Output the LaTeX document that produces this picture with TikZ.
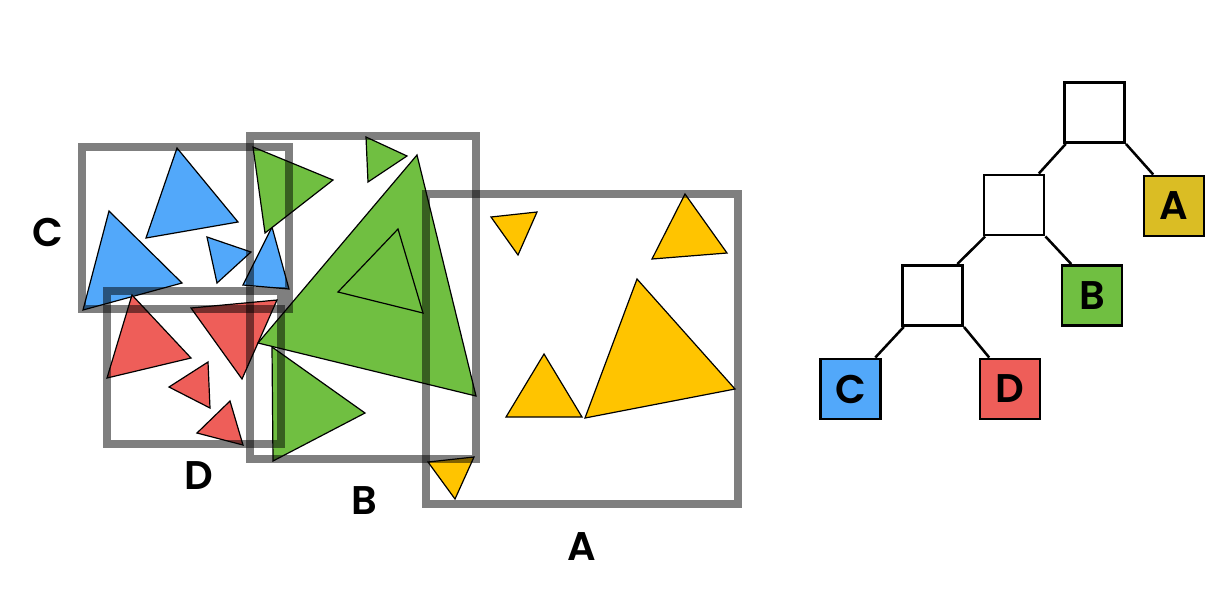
\documentclass[tikz,border=0pt]{standalone}
\usepackage{fontspec}
\setmainfont{Poppins}[BoldFont={Poppins SemiBold}]
\usetikzlibrary{positioning,calc}
\definecolor{triblue}{HTML}{52A8FA}
\definecolor{trired}{HTML}{EE5E59}
\definecolor{trigreen}{HTML}{70BF41}
\definecolor{triyellow}{HTML}{FFC400}
\definecolor{leafyellow}{HTML}{DABD24}
\begin{document}
\begin{tikzpicture}[x=0.75pt, y=-0.75pt,
  tri/.style={draw=black, line width=0.9pt, line join=miter},
  bbox/.style={draw=black, draw opacity=0.5, line width=6pt},
  lbl/.style={font=\fontsize{30}{30}\selectfont\bfseries, inner sep=0pt},
  tnode/.style={draw=black, line width=2.2pt, minimum size=45pt, inner sep=0pt,
    font=\fontsize{30}{30}\selectfont\bfseries},
  edge/.style={line width=1.9pt}]
\useasboundingbox (0,0) rectangle (1219,601);
% C: blue triangles
\filldraw[tri, fill=triblue] (177,148) -- (238,222) -- (146,238) -- cycle;
\filldraw[tri, fill=triblue] (109,211) -- (182,283) -- (83,310) -- cycle;
\filldraw[tri, fill=triblue] (207,237) -- (251,252) -- (217,283) -- cycle;
\filldraw[tri, fill=triblue] (272,227) -- (289,289) -- (243,285) -- cycle;
% D: red triangles
\filldraw[tri, fill=trired] (132,295) -- (191,358) -- (107,378) -- cycle;
\filldraw[tri, fill=trired] (191,308) -- (277,300) -- (242,379) -- cycle;
\filldraw[tri, fill=trired] (208,362) -- (210,408) -- (169,387) -- cycle;
\filldraw[tri, fill=trired] (230,401) -- (243,445) -- (197,433) -- cycle;
% B: green triangles
\filldraw[tri, fill=trigreen] (253,147) -- (333,180) -- (265,233) -- cycle;
\filldraw[tri, fill=trigreen] (366,137) -- (407,156) -- (368,182) -- cycle;
\filldraw[tri, fill=trigreen] (417,155) -- (476,396) -- (258,343) -- cycle;
\filldraw[tri, fill=trigreen] (398,229) -- (423,313) -- (338,292) -- cycle;
\filldraw[tri, fill=trigreen] (272,347) -- (365,413) -- (273,461) -- cycle;
% A: yellow triangles
\filldraw[tri, fill=triyellow] (491,217) -- (537,212) -- (518,255) -- cycle;
\filldraw[tri, fill=triyellow] (685,194) -- (727,253) -- (652,259) -- cycle;
\filldraw[tri, fill=triyellow] (637,279) -- (735,389) -- (585,418) -- cycle;
\filldraw[tri, fill=triyellow] (544,354) -- (582,417) -- (506,417) -- cycle;
\filldraw[tri, fill=triyellow] (428,462) -- (474,457) -- (455,499) -- cycle;
% bounding boxes
\draw[bbox] (82,147) rectangle (289,309);
\draw[bbox] (107,291) rectangle (281,444);
\draw[bbox] (250,136) rectangle (476,459);
\draw[bbox] (426,194) rectangle (738,504);
\node[lbl] (labC) at (47.5,232) {C};
\node[lbl] (labD) at (198.5,476) {D};
\node[lbl] (labB) at (364.5,501) {B};
\node[lbl] (labA) at (582,546.5) {A};
% tree
\node[tnode] (root) at (1094.5,112.5) {};
\node[tnode] (inner1) at (1014,205) {};
\node[tnode] (inner2) at (932.5,295.5) {};
\node[tnode, fill=leafyellow] (leafA) at (1174,206) {A};
\node[tnode, fill=trigreen] (leafB) at (1092,295.5) {B};
\node[tnode, fill=triblue] (leafC) at (850.5,389) {C};
\node[tnode, fill=trired] (leafD) at (1010,389) {D};
\draw[edge] ([xshift=2pt]root.south west) -- ([xshift=-5pt]inner1.north east);
\draw[edge] (root.south east) -- ([xshift=8pt]leafA.north west);
\draw[edge] ([xshift=2pt]inner1.south west) -- ([xshift=-5pt]inner2.north east);
\draw[edge] (inner1.south east) -- ([xshift=8pt]leafB.north west);
\draw[edge] ([xshift=2pt]inner2.south west) -- ([xshift=-5pt]leafC.north east);
\draw[edge] (inner2.south east) -- ([xshift=8pt]leafD.north west);
\end{tikzpicture}
\end{document}
